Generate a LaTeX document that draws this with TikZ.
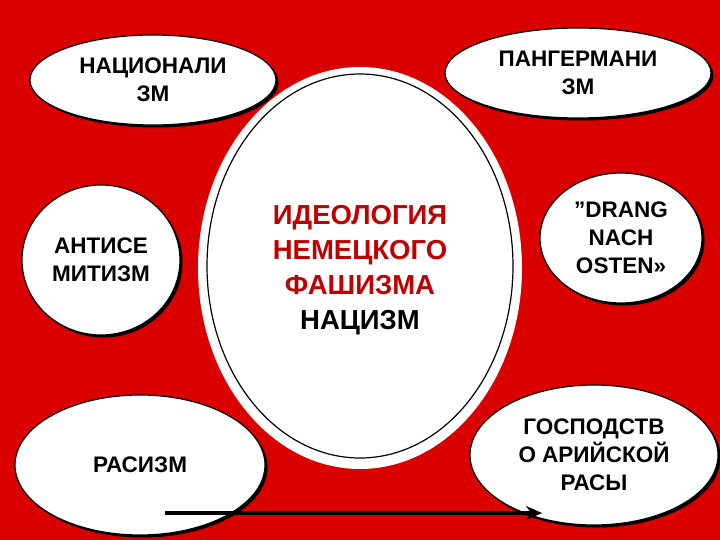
\documentclass[tikz,border=0pt]{standalone}
\usepackage{fontspec}
\setmainfont{Liberation Sans}
\usetikzlibrary{arrows.meta}
\definecolor{bg}{HTML}{DA0000}
\definecolor{dred}{HTML}{C00000}
\begin{document}
\begin{tikzpicture}[x=1pt,y=-1pt]
\fill[bg] (0,0) rectangle (720,540);
\useasboundingbox (0,0) rectangle (720,540);
\newcommand{\ov}[6]{%
 \fill[black] (#2+2.5,#3+2.5) ellipse [x radius=#4, y radius=#5];
 \draw[fill=white,line width=1.2pt] (#2,#3) ellipse [x radius=#4, y radius=#5];
 \node[align=center,font=\bfseries\fontsize{22.5}{28}\selectfont] (#1) at (#2,#3) {#6};}
\ov{nac}{153}{80}{123}{45}{НАЦИОНАЛИ\\ЗМ}
\ov{pan}{578}{73}{133}{45}{ПАНГЕРМАНИ\\ЗМ}
\ov{ant}{101}{260}{79}{75}{АНТИСЕ\\МИТИЗМ}
\ov{dra}{621}{238}{81}{65}{\symbol{34}DRANG\\NACH\\OSTEN»}
\ov{ras}{140}{465}{125}{70}{РАСИЗМ}
\ov{gos}{594}{455}{124}{70}{ГОСПОДСТВ\\О АРИЙСКОЙ\\РАСЫ}
\fill[white] (360,268) ellipse [x radius=162, y radius=201];
\draw[line width=1.2pt] (360,266) ellipse [x radius=153, y radius=192];
\node[align=center,font=\bfseries\fontsize{27.5}{35}\selectfont] (c) at (360,270)
 {\textcolor{dred}{ИДЕОЛОГИЯ}\\\textcolor{dred}{НЕМЕЦКОГО}\\\textcolor{dred}{ФАШИЗМА}\\НАЦИЗМ};
\coordinate (a1) at (165,513);
\coordinate (a2) at (542,513);
\draw[line width=3.5pt,-{Stealth[length=16pt,width=14pt]}] (a1) -- (a2);
\end{tikzpicture}
\end{document}
